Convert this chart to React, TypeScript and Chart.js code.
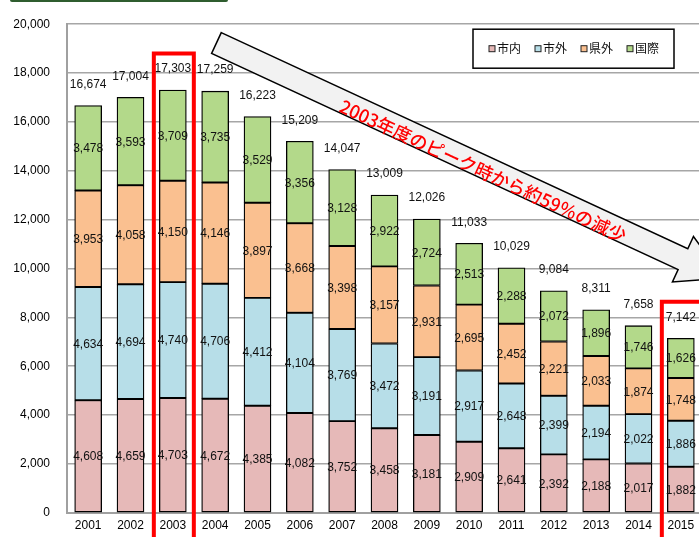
import React, { useEffect, useRef } from "react";
import { Chart, registerables } from "chart.js";

Chart.register(...registerables);

const years = ["2001","2002","2003","2004","2005","2006","2007","2008","2009","2010","2011","2012","2013","2014","2015"];
const seriesNames = ["市内", "市外", "県外", "国際"];
const shinai = [4608,4659,4703,4672,4385,4082,3752,3458,3181,2909,2641,2392,2188,2017,1882];
const shigai = [4634,4694,4740,4706,4412,4104,3769,3472,3191,2917,2648,2399,2194,2022,1886];
const kengai = [3953,4058,4150,4146,3897,3668,3398,3157,2931,2695,2452,2221,2033,1874,1748];
const kokusai = [3478,3593,3709,3735,3529,3356,3128,2922,2724,2513,2288,2072,1896,1746,1626];
const totals = [16674,17004,17303,17259,16223,15209,14047,13009,12026,11033,10029,9084,8311,7658,7142];
const highlighted = [2, 14];
const arrowText = "2003年度のピーク時から約59％の減少";
const colors = ["#E6B9B8", "#B7DEE8", "#FAC090", "#B3D98A"];

const LATIN = "'Liberation Sans', Arial, sans-serif";
const CJK = "'Noto Sans CJK JP', 'Liberation Sans', sans-serif";

const fmt = (v: number) => v.toLocaleString("en-US");

const overlayPlugin = {
  id: "overlay",
  afterDatasetsDraw(chart: any) {
    const ctx = chart.ctx;
    ctx.save();
    ctx.font = `12px ${LATIN}`;
    ctx.fillStyle = "#111";
    ctx.textAlign = "center";
    ctx.textBaseline = "middle";
    chart.data.datasets.forEach((ds: any, di: number) => {
      const meta = chart.getDatasetMeta(di);
      meta.data.forEach((el: any, i: number) => {
        const y = (el.y + el.base) / 2;
        ctx.fillText(fmt(ds.data[i]), el.x, y + 1);
      });
    });
    const last = chart.getDatasetMeta(chart.data.datasets.length - 1);
    last.data.forEach((el: any, i: number) => {
      ctx.fillText(fmt(totals[i]), el.x, el.y - 21);
    });
    ctx.restore();
  },
  afterDraw(chart: any) {
    const ctx = chart.ctx;
    const xs = chart.scales.x;
    const ys = chart.scales.y;
    const area = chart.chartArea;
    ctx.save();

    // dark green top strip
    ctx.fillStyle = "#2F5D2F";
    ctx.beginPath();
    (ctx as any).roundRect(10, -2, 218, 4, 2);
    ctx.fill();

    // arrow
    const tail = { x: xs.getPixelForValue(3.03), y: ys.getPixelForValue(19230) };
    const base = { x: xs.getPixelForValue(14.05), y: ys.getPixelForValue(10380) };
    const dx = base.x - tail.x, dy = base.y - tail.y;
    const len = Math.hypot(dx, dy);
    const d = { x: dx / len, y: dy / len };
    const n = { x: -d.y, y: d.x };
    const hw = 11.5, HW = 25, HL = 45;
    const p = (o: any, a: number, b: number) => ({ x: o.x + d.x * a + n.x * b, y: o.y + d.y * a + n.y * b });
    const pts = [
      p(tail, 0, -hw), p(base, 0, -hw), p(base, 0, -HW), p(base, HL, 0),
      p(base, 0, HW), p(base, 0, hw), p(tail, 0, hw),
    ];
    ctx.beginPath();
    pts.forEach((q, i) => (i ? ctx.lineTo(q.x, q.y) : ctx.moveTo(q.x, q.y)));
    ctx.closePath();
    ctx.fillStyle = "#F2F2F2";
    ctx.fill();
    ctx.lineWidth = 1.5;
    ctx.strokeStyle = "#000";
    ctx.lineJoin = "miter";
    ctx.stroke();

    // arrow text
    const tc = p(tail, len * 0.575, 4);
    ctx.save();
    ctx.translate(tc.x, tc.y);
    ctx.rotate(Math.atan2(dy, dx));
    ctx.font = `500 18px ${CJK}`;
    ctx.fillStyle = "#FF0000";
    ctx.textAlign = "center";
    ctx.textBaseline = "middle";
    ctx.fillText(arrowText, 0, 0);
    ctx.restore();

    // legend box
    const bw = 201, bh = 39;
    const bx = area.right - 28 - bw, by = area.top + 5;
    ctx.fillStyle = "#fff";
    ctx.fillRect(bx, by, bw, bh);
    ctx.lineWidth = 1.5;
    ctx.strokeStyle = "#000";
    ctx.strokeRect(bx, by, bw, bh);
    ctx.font = `12px ${CJK}`;
    ctx.textAlign = "left";
    ctx.textBaseline = "middle";
    let x = bx + 16;
    const cy = by + bh / 2;
    chart.data.datasets.forEach((ds: any) => {
      ctx.fillStyle = ds.backgroundColor;
      ctx.fillRect(x, cy - 3, 6, 6);
      ctx.lineWidth = 1;
      ctx.strokeStyle = "#222";
      ctx.strokeRect(x, cy - 3, 6, 6);
      ctx.fillStyle = "#111";
      ctx.fillText(ds.label, x + 8, cy);
      x += 8 + ctx.measureText(ds.label).width + 14;
    });

    // red highlight frames
    ctx.strokeStyle = "#FF0000";
    ctx.lineWidth = 4;
    highlighted.forEach((i) => {
      const cx = xs.getPixelForValue(i);
      const top = ys.getPixelForValue(totals[i] + 1500);
      ctx.beginPath();
      ctx.moveTo(cx - 19, chart.height + 10);
      ctx.lineTo(cx - 19, top);
      ctx.lineTo(cx + 21, top);
      ctx.lineTo(cx + 21, chart.height + 10);
      ctx.stroke();
    });
    ctx.restore();
  },
};

export default function App() {
  const ref = useRef<HTMLCanvasElement | null>(null);
  useEffect(() => {
    if (!ref.current) return;
    const data = [shinai, shigai, kengai, kokusai];
    const chart = new Chart(ref.current, {
      type: "bar",
      data: {
        labels: years,
        datasets: data.map((d, i) => ({
          label: seriesNames[i],
          data: d,
          backgroundColor: colors[i],
          borderColor: "#000",
          borderWidth: 1.3,
          borderSkipped: false,
          barThickness: 27,
        })),
      },
      options: {
        responsive: false,
        animation: false,
        events: [],
        layout: { padding: { top: 22, left: 0, right: 0, bottom: 0 } },
        plugins: { legend: { display: false }, tooltip: { enabled: false } },
        scales: {
          x: {
            stacked: true,
            grid: { display: false, drawTicks: false },
            border: { display: true, color: "#A0A0A0", width: 2 },
            ticks: { color: "#000", font: { size: 12, family: LATIN }, padding: 6, maxRotation: 0, autoSkip: false },
            afterFit: (s: any) => { s.height = 24; },
          },
          y: {
            stacked: true,
            min: 0,
            max: 20000,
            grid: { color: "#A6A6A6", lineWidth: 1.5, drawTicks: false },
            border: { display: true, color: "#A0A0A0", width: 2 },
            ticks: { stepSize: 2000, color: "#000", font: { size: 12, family: LATIN }, padding: 17, callback: (v: any) => fmt(Number(v)) },
            afterFit: (s: any) => { s.width = 67; },
          },
        },
      },
      plugins: [overlayPlugin],
    } as any);
    return () => chart.destroy();
  }, []);
  return (
    <div style={{ position: "fixed", left: 0, top: 0, width: 699, height: 537, overflow: "hidden", background: "#fff" }}>
      <canvas ref={ref} width={702} height={537} style={{ width: 702, height: 537, display: "block" }} />
    </div>
  );
}
